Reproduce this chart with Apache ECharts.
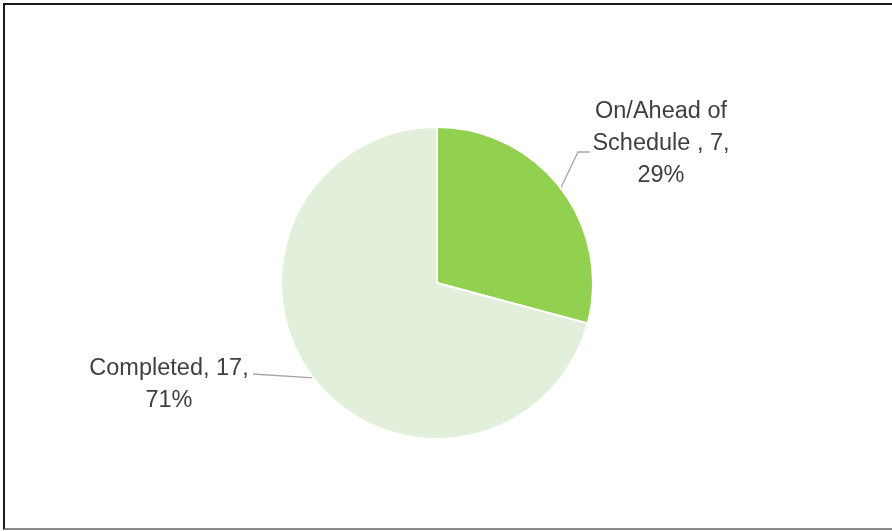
<!DOCTYPE html>
<html>
<head>
<meta charset="utf-8">
<script src="https://cdn.jsdelivr.net/npm/echarts@6/dist/echarts.min.js"></script>
<style>
  html, body { margin: 0; padding: 0; background: #fff; }
  #frame {
    position: absolute; left: 3px; top: 3px; width: 889px; height: 523px;
    border-top: 2px solid #1a1a1a; border-left: 2px solid #1a1a1a; border-bottom: 2px solid #8a8a8a;
  }
  #chart { width: 892px; height: 531px; position: absolute; left: 0; top: 0; }
</style>
</head>
<body>
<div id="frame"></div>
<div id="chart"></div>
<script>
// data
const categories = ['On/Ahead of Schedule ', 'Completed'];
const values = [7, 17];
const percents = ['29%', '71%'];
const colorList = ['#92D050', '#E2EFDA'];

// label anchor spots (text block centre) and where the leader line meets the text
const labelSpots = [
  { x: 661, y: 144, bend: [578, 152], end: [590, 152] },
  { x: 169, y: 385, bend: null, end: [253, 374] }
];

const chart = echarts.init(document.getElementById('chart'));

chart.setOption({
  animation: false,
  series: [{
    type: 'pie',
    center: [437, 283],
    radius: 156,
    startAngle: 90,
    clockwise: true,
    data: categories.map((c, i) => ({ name: c, value: values[i] })),
    itemStyle: {
      color: function (params) { return colorList[params.dataIndex]; },
      borderColor: '#ffffff',
      borderWidth: 2
    },
    label: {
      show: true,
      position: 'outside',
      fontFamily: 'Liberation Sans, Arial, sans-serif',
      fontSize: 23.5,
      lineHeight: 32,
      color: '#404040',
      align: 'center',
      formatter: function (p) {
        if (p.dataIndex === 0) {
          return 'On/Ahead of\nSchedule , ' + p.value + ',\n' + percents[p.dataIndex];
        }
        return p.name + ', ' + p.value + ',\n' + percents[p.dataIndex];
      }
    },
    labelLine: {
      show: true,
      lineStyle: { color: '#a6a6a6', width: 1.3 }
    },
    labelLayout: function (params) {
      const s = labelSpots[params.dataIndex];
      const start = params.labelLinePoints ? params.labelLinePoints[0] : null;
      const out = { x: s.x, y: s.y, align: 'center', verticalAlign: 'middle' };
      if (start) {
        out.labelLinePoints = s.bend ? [start, s.bend, s.end] : [start, s.end];
      }
      return out;
    }
  }]
});
</script>
</body>
</html>
